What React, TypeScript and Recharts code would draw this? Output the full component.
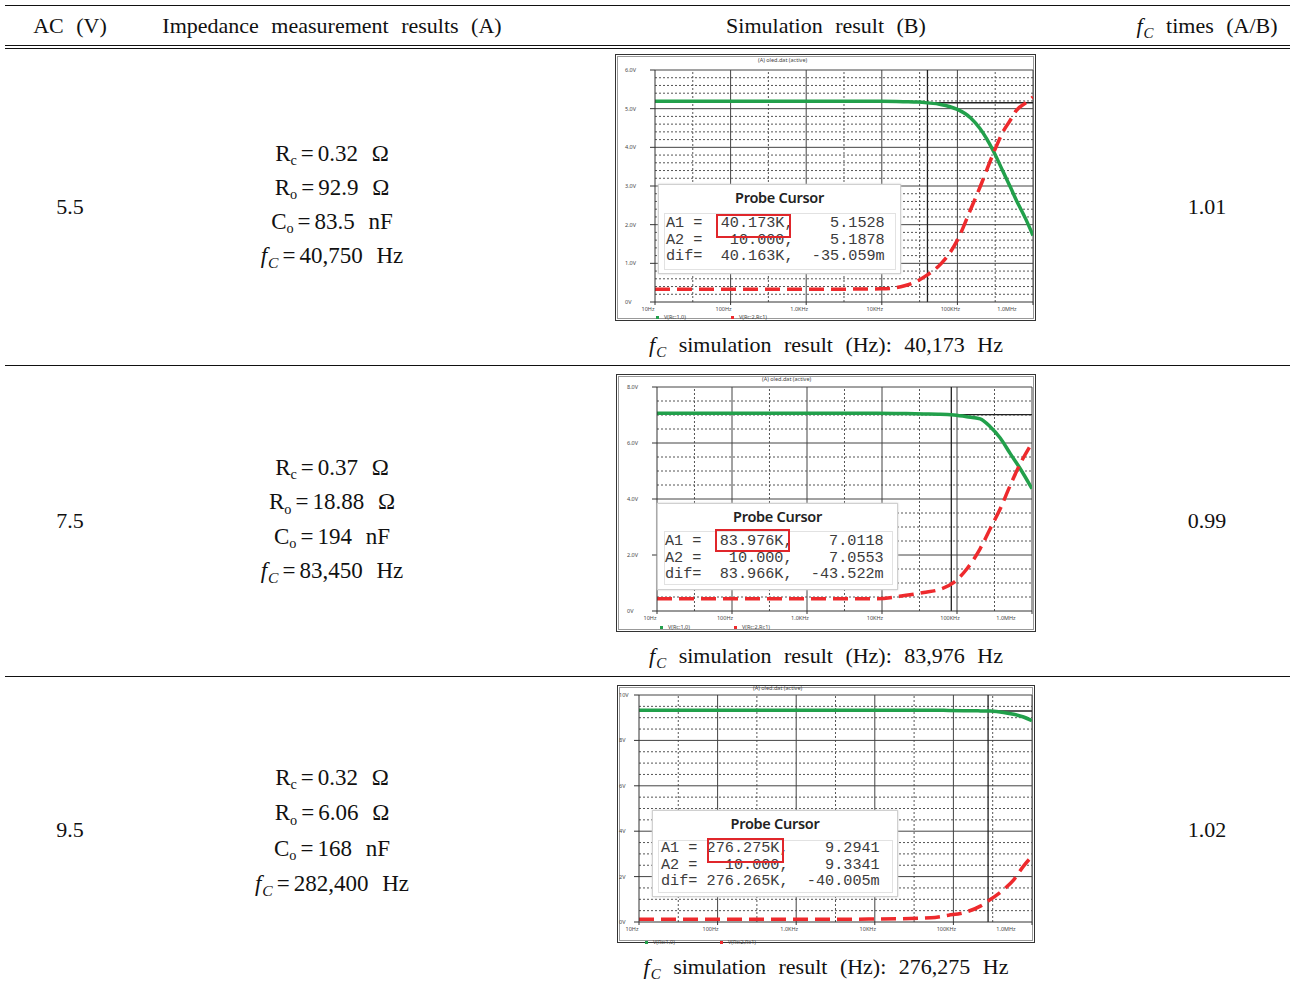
import React from 'react';
import { ComposedChart, Line, XAxis, YAxis, ReferenceLine } from 'recharts';

// table text
const AC_VOLTS = ['5.5', '7.5', '9.5'];
const RC_OHM = ['0.32', '0.37', '0.32'];
const RO_OHM = ['92.9', '18.88', '6.06'];
const CO_NF = ['83.5', '194', '168'];
const FC_MEAS = ['40,750', '83,450', '282,400'];
const FC_SIM = ['40,173', '83,976', '276,275'];
const FC_RATIO = ['1.01', '0.99', '1.02'];

// shared frequency axis
const FREQ_TICKS = [10, 100, 1000, 10000, 100000, 1000000];
const FREQ_LABELS = ['10Hz', '100Hz', '1.0KHz', '10KHz', '100KHz', '1.0MHz'];
const FREQ_HALF = [31.6, 316, 3162, 31623, 316228];

// 5.5 V
const freq55 = [10, 100, 1000, 10000, 20000, 30000, 40000, 60000, 80000, 100000, 150000, 200000, 300000, 400000, 500000, 600000, 800000, 1000000];
const vout55 = [5.19, 5.19, 5.19, 5.19, 5.18, 5.17, 5.15, 5.11, 5.05, 4.98, 4.76, 4.48, 3.9, 3.38, 2.98, 2.64, 2.15, 1.72];
const vrc55 = [0.33, 0.33, 0.33, 0.34, 0.42, 0.55, 0.7, 0.98, 1.28, 1.6, 2.4, 2.98, 3.85, 4.4, 4.7, 4.95, 5.15, 5.3];
const yTicks55 = [0, 1, 2, 3, 4, 5, 6];
const yLabels55 = ['0V', '1.0V', '2.0V', '3.0V', '4.0V', '5.0V', '6.0V'];
const probe55 = ['A1 =  40.173K,    5.1528', 'A2 =   10.000,    5.1878', 'dif=  40.163K,  -35.059m'];

// 7.5 V
const freq75 = [10, 100, 1000, 8500, 21000, 36000, 60000, 91000, 135000, 204000, 277000, 377000, 513000, 697000, 1000000];
const vout75 = [7.06, 7.06, 7.06, 7.06, 7.05, 7.04, 7.03, 7.0, 6.94, 6.86, 6.58, 6.18, 5.62, 5.08, 4.37];
const vrc75 = [0.44, 0.44, 0.44, 0.44, 0.56, 0.66, 0.78, 1.02, 1.5, 2.23, 2.94, 3.65, 4.49, 5.26, 6.0];
const yTicks75 = [0, 2, 4, 6, 8];
const yLabels75 = ['0V', '2.0V', '4.0V', '6.0V', '8.0V'];
const probe75 = ['A1 =  83.976K,    7.0118', 'A2 =   10.000,    7.0553', 'dif=  83.966K,  -43.522m'];

// 9.5 V
const freq95 = [10, 100, 1000, 10000, 52000, 87000, 135000, 220000, 295000, 435000, 585000, 780000, 1000000];
const vout95 = [9.33, 9.33, 9.33, 9.33, 9.33, 9.32, 9.31, 9.3, 9.29, 9.23, 9.15, 9.03, 8.87];
const vrc95 = [0.12, 0.12, 0.12, 0.13, 0.19, 0.3, 0.41, 0.7, 0.99, 1.43, 1.86, 2.46, 2.9];
const yTicks95 = [0, 2, 4, 6, 8, 10];
const yLabels95 = ['0V', '2V', '4V', '6V', '8V', '10V'];
const probe95 = ['A1 = 276.275K,    9.2941', 'A2 =   10.000,    9.3341', 'dif= 276.265K,  -40.005m'];

const serif = '"Liberation Serif", "Times New Roman", serif';
const mono = '"Liberation Mono", "Courier New", monospace';
const sans = '"Noto Sans", "DejaVu Sans", sans-serif';

function minorSteps(max: number, major: number, minor: number) {
  const out: number[] = [];
  for (let v = minor; v < max - 1e-9; v += minor) {
    const r = v / major;
    if (Math.abs(r - Math.round(r)) > 1e-6) out.push(+v.toFixed(3));
  }
  return out;
}

const CHARTS = [
  {
    freq: freq55, vout: vout55, vrc: vrc55, yTicks: yTicks55, yLabels: yLabels55, yMax: 6, yMinorStep: 0.2,
    a1f: 40173, a1v: 5.1528, probe: probe55,
    frame: { left: 615, top: 54, w: 421, h: 267 }, plot: { left: 40, right: 418, top: 16, bottom: 248 },
    yLabelX: 9, titleX: 142, titleY: 1, legendY: 258, legendX: [40, 115],
    box: { left: 42, top: 129, w: 243, h: 90, titleY: 4, inL: 5, inT: 28, inW: 232, inH: 57, textL: 1, rowT: 1, redL: 51, redT: 0, redW: 75, redH: 24 },
  },
  {
    freq: freq75, vout: vout75, vrc: vrc75, yTicks: yTicks75, yLabels: yLabels75, yMax: 8, yMinorStep: 0.5,
    a1f: 83976, a1v: 7.0118, probe: probe75,
    frame: { left: 616, top: 374, w: 420, h: 258 }, plot: { left: 41, right: 416, top: 13, bottom: 237 },
    yLabelX: 10, titleX: 145, titleY: 0, legendY: 248, legendX: [43, 117],
    box: { left: 40, top: 128, w: 241, h: 87, titleY: 4, inL: 6, inT: 27, inW: 229, inH: 54, textL: 0, rowT: 1, redL: 50, redT: -3, redW: 75, redH: 23 },
  },
  {
    freq: freq95, vout: vout95, vrc: vrc95, yTicks: yTicks95, yLabels: yLabels95, yMax: 10, yMinorStep: 0.5,
    a1f: 276275, a1v: 9.2941, probe: probe95,
    frame: { left: 617, top: 685, w: 418, h: 258 }, plot: { left: 22, right: 415, top: 10, bottom: 237 },
    yLabelX: 1, titleX: 135, titleY: -2, legendY: 252, legendX: [27, 102],
    box: { left: 34, top: 124, w: 246, h: 87, titleY: 4, inL: 5, inT: 29, inW: 235, inH: 53, textL: 2, rowT: -1, redL: 48, redT: -3, redW: 77, redH: 25 },
  },
];

type ChartCfg = (typeof CHARTS)[number];

function FreqTick(props: any) {
  const { x, y, payload } = props;
  const i = FREQ_TICKS.indexOf(payload.value);
  const last = i === FREQ_TICKS.length - 1;
  return (
    <text x={last ? x - 26 : x - 7} y={y + 4} textAnchor="middle" fontSize={5.5} fill="#444" fontFamily={sans}>
      {FREQ_LABELS[i]}
    </text>
  );
}

function ProbeBox({ cfg }: { cfg: ChartCfg }) {
  const b = cfg.box;
  return (
    <div style={{ position: 'absolute', left: b.left, top: b.top, width: b.w, height: b.h, background: '#fff', border: '1px solid #d0d0d0', boxSizing: 'border-box', boxShadow: '0 0 2px #ccc' }}>
      <div style={{ position: 'absolute', left: 0, top: b.titleY, width: '100%', textAlign: 'center', fontFamily: sans, fontWeight: 600, fontSize: 14.5, lineHeight: '17px', color: '#222', letterSpacing: -0.3 }}>
        Probe Cursor
      </div>
      <div style={{ position: 'absolute', left: b.inL, top: b.inT, width: b.inW, height: b.inH, border: '1px solid #e2e2e2', boxSizing: 'border-box' }}>
        <div style={{ position: 'absolute', left: b.textL, top: b.rowT, fontFamily: mono, fontSize: 15.2, lineHeight: '16.7px', color: '#3c3c3c', whiteSpace: 'pre' }}>
          {cfg.probe.map((r, i) => (
            <div key={i}>{r}</div>
          ))}
        </div>
        <div style={{ position: 'absolute', left: b.redL, top: b.redT, width: b.redW, height: b.redH, border: '2px solid #e0262b', boxSizing: 'border-box' }} />
      </div>
    </div>
  );
}

function SimChart({ cfg }: { cfg: ChartCfg }) {
  const data = cfg.freq.map((f, i) => ({ f, vout: cfg.vout[i], vrc: cfg.vrc[i] }));
  const fr = cfg.frame;
  const p = cfg.plot;
  const w = fr.w - 2;
  const h = fr.h - 2;
  const yMinor = minorSteps(cfg.yMax, cfg.yTicks[1], cfg.yMinorStep);
  const YTick = (props: any) => {
    const i = cfg.yTicks.indexOf(props.payload.value);
    return (
      <text x={cfg.yLabelX} y={props.y + 2} textAnchor="start" fontSize={5.5} fill="#444" fontFamily={sans}>
        {cfg.yLabels[i]}
      </text>
    );
  };
  return (
    <div style={{ position: 'absolute', left: fr.left, top: fr.top, width: fr.w, height: fr.h, border: '1px solid #333', boxSizing: 'border-box', background: '#fff', boxShadow: 'inset 0 0 0 1px #fff, inset 0 0 0 2px #999' }}>
      <ComposedChart width={w} height={h} data={data} margin={{ top: p.top - 1, right: fr.w - p.right - 1, bottom: 0, left: 0 }}>
        <XAxis dataKey="f" type="number" scale="log" domain={[10, 1000000]} allowDataOverflow ticks={FREQ_TICKS} interval={0}
          height={h - (p.bottom - 1)} tick={<FreqTick />} tickSize={3} tickLine={{ stroke: '#333' }} axisLine={{ stroke: '#333' }} />
        <YAxis type="number" domain={[0, cfg.yMax]} ticks={cfg.yTicks} interval={0} width={p.left - 1}
          tick={<YTick />} tickSize={5} tickLine={{ stroke: '#333' }} axisLine={{ stroke: '#333' }} />
        {yMinor.map((v) => (
          <ReferenceLine key={'ym' + v} y={v} stroke="#555" strokeDasharray="2 2" strokeWidth={1} />
        ))}
        {FREQ_HALF.map((v) => (
          <ReferenceLine key={'xm' + v} x={v} stroke="#555" strokeDasharray="2 2" strokeWidth={1} />
        ))}
        {cfg.yTicks.slice(1).map((v) => (
          <ReferenceLine key={'yM' + v} y={v} stroke="#444" strokeWidth={1} />
        ))}
        {FREQ_TICKS.slice(1).map((v) => (
          <ReferenceLine key={'xM' + v} x={v} stroke="#444" strokeWidth={1} />
        ))}
        <ReferenceLine x={cfg.a1f} stroke="#222" strokeWidth={1.3} />
        <ReferenceLine segment={[{ x: cfg.a1f, y: cfg.a1v }, { x: 1000000, y: cfg.a1v }]} stroke="#222" strokeWidth={1.3} />
        <Line dataKey="vout" type="monotone" stroke="#22a04b" strokeWidth={3.5} dot={false} isAnimationActive={false} />
        <Line dataKey="vrc" type="monotone" stroke="#ee2a2d" strokeWidth={3.5} strokeDasharray="15 7" dot={false} isAnimationActive={false} />
      </ComposedChart>
      <div style={{ position: 'absolute', left: cfg.titleX, top: cfg.titleY, fontFamily: sans, fontSize: 5.5, color: '#444', whiteSpace: 'nowrap' }}>
        (A) oled.dat (active)
      </div>
      <div style={{ position: 'absolute', left: cfg.legendX[0], top: cfg.legendY, fontFamily: sans, fontSize: 5.5, color: '#444', whiteSpace: 'nowrap' }}>
        <span style={{ display: 'inline-block', width: 3, height: 3, background: '#22a04b', marginRight: 5, verticalAlign: 'middle' }} />
        V(Rc:1,0)
      </div>
      <div style={{ position: 'absolute', left: cfg.legendX[1], top: cfg.legendY, fontFamily: sans, fontSize: 5.5, color: '#444', whiteSpace: 'nowrap' }}>
        <span style={{ display: 'inline-block', width: 3, height: 3, background: '#ee2a2d', marginRight: 5, verticalAlign: 'middle' }} />
        V(Rc:2,Rc1)
      </div>
      <ProbeBox cfg={cfg} />
    </div>
  );
}

function FC() {
  return (
    <span style={{ wordSpacing: 0 }}>
      <i>f</i>
      <i style={{ fontSize: '0.68em', position: 'relative', top: '0.35em', marginLeft: 1 }}>C</i>
    </span>
  );
}

function Sub({ t }: { t: string }) {
  return <span style={{ fontSize: '0.62em', position: 'relative', top: '0.3em' }}>{t}</span>;
}

function Eq() {
  return <span style={{ margin: '0 4px 0 4px' }}>=</span>;
}

const ROW_TOP = [48, 365, 676];
const ROW_H = [317, 311, 307];
const PARAM_TOP = [137, 451, 760];
const PARAM_LH = [34, 34.3, 35.3];
const CAPTION_Y = [345, 656, 967];

function Centered({ cx, cy, w, children, size = 22, lh = 26 }: any) {
  return (
    <div style={{ position: 'absolute', left: cx - w / 2, top: cy - lh / 2, width: w, textAlign: 'center', fontSize: size, lineHeight: lh + 'px', whiteSpace: 'nowrap', wordSpacing: 7 }}>
      {children}
    </div>
  );
}

export default function App() {
  return (
    <div style={{ position: 'absolute', left: 0, top: 0, width: 1294, height: 983, background: '#fff', fontFamily: serif, color: '#111', overflow: 'hidden' }}>
      <div style={{ position: 'absolute', left: 5, top: 5, width: 1285, height: 1, background: '#111' }} />
      <div style={{ position: 'absolute', left: 5, top: 45, width: 1285, height: 1, background: '#111' }} />
      <div style={{ position: 'absolute', left: 5, top: 48, width: 1285, height: 1, background: '#111' }} />
      <div style={{ position: 'absolute', left: 5, top: 365, width: 1285, height: 1, background: '#111' }} />
      <div style={{ position: 'absolute', left: 5, top: 676, width: 1285, height: 1, background: '#111' }} />

      <Centered cx={70} cy={26} w={130}>AC (V)</Centered>
      <Centered cx={332} cy={26} w={420}>Impedance measurement results (A)</Centered>
      <Centered cx={826} cy={26} w={400}>Simulation result (B)</Centered>
      <Centered cx={1207} cy={26} w={200}><FC /> times (A/B)</Centered>

      {AC_VOLTS.map((v, i) => {
        const lineStyle = { height: PARAM_LH[i], lineHeight: PARAM_LH[i] + 'px' };
        return (
          <React.Fragment key={i}>
            <Centered cx={70} cy={ROW_TOP[i] + ROW_H[i] / 2} w={130}>{v}</Centered>
            <Centered cx={1207} cy={ROW_TOP[i] + ROW_H[i] / 2} w={130}>{FC_RATIO[i]}</Centered>
            <div style={{ position: 'absolute', left: 182, top: PARAM_TOP[i], width: 300, textAlign: 'center', fontSize: 23, whiteSpace: 'nowrap', wordSpacing: 8 }}>
              <div style={lineStyle}>R<Sub t="c" /><Eq />{RC_OHM[i]} Ω</div>
              <div style={lineStyle}>R<Sub t="o" /><Eq />{RO_OHM[i]} Ω</div>
              <div style={lineStyle}>C<Sub t="o" /><Eq />{CO_NF[i]} nF</div>
              <div style={lineStyle}><FC /><Eq />{FC_MEAS[i]} Hz</div>
            </div>
            <Centered cx={826} cy={CAPTION_Y[i]} w={500}><FC /> simulation result (Hz): {FC_SIM[i]} Hz</Centered>
          </React.Fragment>
        );
      })}

      {CHARTS.map((c, i) => (
        <SimChart key={i} cfg={c} />
      ))}
    </div>
  );
}
